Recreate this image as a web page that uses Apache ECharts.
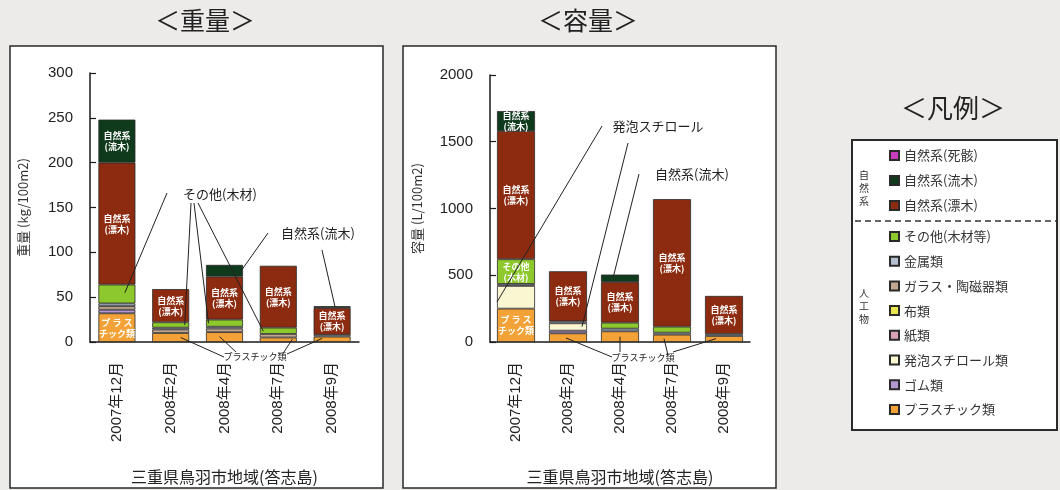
<!DOCTYPE html>
<html>
<head>
<meta charset="utf-8">
<script src="https://cdn.jsdelivr.net/npm/echarts@6/dist/echarts.min.js"></script>
<style>
html, body { margin: 0; padding: 0; background: #ecebe9; }
#c { width: 1060px; height: 490px; }
</style>
</head>
<body>
<div id="c"></div>
<script>
// Survey dates (三重県鳥羽市・答志島)
const categories = ['2007年12月', '2008年2月', '2008年4月', '2008年7月', '2008年9月'];

// Weight, kg/100m2 (stacked bottom -> top)
const wPlastic   = [32, 10, 11, 5, 6];
const wRubber    = [4, null, null, null, null];
const wFoam      = [null, null, null, null, null];
const wPaper     = [null, null, null, null, null];
const wCloth     = [null, null, null, null, null];
const wGlass     = [4, 4, 4, 4, null];
const wMetal     = [3, 2, 2, null, 2];
const wOtherWood = [21, 6, 8, 7, null];
const wDriftwood = [136, 37, 48, 69, 30];   // 漂木
const wFlowwood  = [48, null, 13, null, 2]; // 流木
const wCarcass   = [null, null, null, null, null];

// Volume, L/100m2 (stacked bottom -> top)
const vPlastic   = [250, 65, 80, 55, 45];
const vRubber    = [null, 20, null, null, null];
const vFoam      = [170, 55, null, null, null];
const vPaper     = [null, null, null, null, null];
const vCloth     = [null, null, null, null, null];
const vGlass     = [null, null, null, null, null];
const vMetal     = [15, 15, 20, 15, 15];
const vOtherWood = [185, null, 45, 45, null];
const vDriftwood = [960, 375, 305, 955, 285];
const vFlowwood  = [150, null, 55, null, null];
const vCarcass   = [null, null, null, null, null];

// Axis ranges
const weightMax = 300, weightStep = 50;
const volumeMax = 2000, volumeStep = 500;

const JP = '"Noto Sans CJK JP", sans-serif';
const NUM = '"Liberation Sans", Arial, "Noto Sans CJK JP", sans-serif';

// Kinds in stacking order (bottom first)
const kinds = [
  { name: 'プラスチック類',   color: '#f2a236', w: wPlastic,   v: vPlastic },
  { name: 'ゴム類',           color: '#b597d2', w: wRubber,    v: vRubber },
  { name: '発泡スチロール類', color: '#fbf6d2', w: wFoam,      v: vFoam },
  { name: '紙類',             color: '#dba2b6', w: wPaper,     v: vPaper },
  { name: '布類',             color: '#e8e64e', w: wCloth,     v: vCloth },
  { name: 'ガラス・陶磁器類', color: '#c2a690', w: wGlass,     v: vGlass },
  { name: '金属類',           color: '#b4bfd0', w: wMetal,     v: vMetal },
  { name: 'その他(木材等)',   color: '#8dc82c', w: wOtherWood, v: vOtherWood },
  { name: '自然系(漂木)',     color: '#8c2b0f', w: wDriftwood, v: vDriftwood },
  { name: '自然系(流木)',     color: '#0f3a1c', w: wFlowwood,  v: vFlowwood },
  { name: '自然系(死骸)',     color: '#c83cbe', w: wCarcass,   v: vCarcass }
];

// In-bar captions
function caption(kind, chart, i) {
  if (kind === '自然系(漂木)') return '自然系\n(漂木)';
  if (kind === '自然系(流木)' && i === 0) return '自然系\n(流木)';
  if (kind === 'その他(木材等)' && chart === 'v' && i === 0) return 'その他\n(木材)';
  if (kind === 'プラスチック類' && i === 0) return 'プ ラ ス\nチック類';
  return null;
}

const series = [];
['w', 'v'].forEach(function (chart, gi) {
  kinds.forEach(function (k) {
    series.push({
      type: 'bar',
      name: k.name,
      stack: chart,
      xAxisIndex: gi,
      yAxisIndex: gi,
      barWidth: gi === 0 ? 37 : 38,
      itemStyle: { color: k.color, borderColor: '#2a2a2a', borderWidth: 0.8 },
      emphasis: { disabled: true },
      data: k[chart].map(function (val, i) {
        const txt = caption(k.name, chart, i);
        if (val == null || !txt) return val;
        return {
          value: val,
          label: {
            show: true, position: 'inside', formatter: txt,
            color: '#fff', fontSize: 9, fontWeight: 'bold', lineHeight: 11, fontFamily: JP
          }
        };
      })
    });
  });
});

function xAxis(gi) {
  return {
    type: 'category', gridIndex: gi, data: categories,
    axisLine: { lineStyle: { color: '#1a1a1a', width: 1.5 } },
    axisTick: { inside: true, length: 5, lineStyle: { color: '#1a1a1a', width: 1.2 } },
    axisLabel: { rotate: 90, fontSize: 15, margin: 20, color: '#222', fontFamily: NUM },
    name: '三重県鳥羽市地域(答志島)', nameLocation: 'middle', nameGap: 127,
    nameTextStyle: { fontSize: 16, color: '#222', fontFamily: JP }
  };
}
function yAxis(gi, max, step, name, gap) {
  return {
    type: 'value', gridIndex: gi, min: 0, max: max, interval: step,
    axisLine: { show: true, lineStyle: { color: '#1a1a1a', width: 1.5 } },
    axisTick: { show: true, inside: true, length: 6, lineStyle: { color: '#1a1a1a', width: 1.2 } },
    splitLine: { show: false },
    axisLabel: { fontSize: 15, margin: 17, color: '#222', fontFamily: NUM,
                 formatter: function (v) { return String(v); } },
    name: name, nameLocation: 'middle', nameGap: gap,
    nameTextStyle: { fontSize: 13, color: '#333', fontFamily: JP }
  };
}

const legendText = { fontSize: 13, color: '#333', fontFamily: JP, lineHeight: 15 };
const legendNames = kinds.map(function (k) { return k.name; }).reverse();

const chart = echarts.init(document.getElementById('c'), null, { renderer: 'canvas' });
chart.setOption({
  backgroundColor: '#ecebe9',
  animation: false,
  grid: [
    { left: 90, right: 701, top: 73, bottom: 144 },
    { left: 490, right: 310, top: 75, bottom: 144 }
  ],
  xAxis: [xAxis(0), xAxis(1)],
  yAxis: [
    yAxis(0, weightMax, weightStep, '重量 (kg/100m2)', 60),
    yAxis(1, volumeMax, volumeStep, '容量 (L/100m2)', 66)
  ],
  legend: [
    { orient: 'vertical', left: 884, top: 143, itemWidth: 9, itemHeight: 9, itemGap: 10,
      icon: 'rect', selectedMode: false, textStyle: legendText, data: legendNames.slice(0, 3) },
    { orient: 'vertical', left: 884, top: 224, itemWidth: 9, itemHeight: 9, itemGap: 9.7,
      icon: 'rect', selectedMode: false, textStyle: legendText, data: legendNames.slice(3) }
  ],
  series: series
});

// Leader lines from callout text to the segments they name
function pt(gi, cat, val, dx) {
  const p = chart.convertToPixel({ gridIndex: gi }, [cat, val]);
  return [p[0] + dx, p[1]];
}
function leader(from, to) {
  return { type: 'line', z: 20, shape: { x1: from[0], y1: from[1], x2: to[0], y2: to[1] },
           style: { stroke: '#222', lineWidth: 1 } };
}
function note(x, y, text, size) {
  return { type: 'text', z: 21, x: x, y: y,
           style: { text: text, fill: '#222', font: size + 'px ' + JP, align: 'center', verticalAlign: 'middle' } };
}

const g = [
  // panels
  { type: 'rect', z: -10, shape: { x: 10, y: 46, width: 373, height: 442 },
    style: { fill: '#ffffff', stroke: '#2a2a2a', lineWidth: 1.5 } },
  { type: 'rect', z: -10, shape: { x: 403, y: 46, width: 373, height: 442 },
    style: { fill: '#ffffff', stroke: '#2a2a2a', lineWidth: 1.5 } },
  { type: 'rect', z: -10, shape: { x: 852, y: 140, width: 205, height: 290 },
    style: { fill: '#ffffff', stroke: '#2a2a2a', lineWidth: 2 } },
  // titles
  note(205, 20, '＜重量＞', 25),
  note(588, 20, '＜容量＞', 25),
  note(953, 108, '＜凡例＞', 26),
  // legend group marks
  { type: 'line', z: 5, shape: { x1: 855, y1: 221, x2: 1057, y2: 221 },
    style: { stroke: '#333', lineWidth: 1.5, lineDash: [6, 4] } },
  { type: 'text', z: 5, x: 864, y: 188,
    style: { text: '自\n然\n系', fill: '#333', font: '10px ' + JP, lineHeight: 13, align: 'center', verticalAlign: 'middle' } },
  { type: 'text', z: 5, x: 864, y: 306,
    style: { text: '人\n工\n物', fill: '#333', font: '10px ' + JP, lineHeight: 13, align: 'center', verticalAlign: 'middle' } },

  // weight callouts
  note(220, 194, 'その他(木材)', 13),
  leader([167, 193], pt(0, 0, 55, 8)),
  leader([191, 203], pt(0, 1, 19, 14)),
  leader([194, 203], pt(0, 2, 21, -16)),
  leader([198, 203], pt(0, 3, 12, -15)),
  note(318, 233, '自然系(流木)', 13),
  leader([268, 233], pt(0, 2, 80, 17)),
  leader([322, 250], pt(0, 4, 39, 3)),
  note(255, 357, 'プラスチック類', 9),
  leader([224, 357], pt(0, 1, 5, 10)),
  leader([236, 352], pt(0, 2, 6, -5)),
  leader([282, 355], pt(0, 3, 3, 14)),
  leader([287, 354], pt(0, 4, 4, -10)),

  // volume callouts
  note(658, 126, '発泡スチロール', 13),
  leader([602, 126], pt(1, 0, 300, -19)),
  leader([628, 143], pt(1, 1, 115, 14)),
  note(692, 174, '自然系(流木)', 13),
  leader([639, 174], pt(1, 2, 478, -7)),
  note(643, 358, 'プラスチック類', 9),
  leader([612, 357], pt(1, 1, 30, -2)),
  leader([620, 352], pt(1, 2, 40, 0)),
  leader([668, 355], pt(1, 3, 25, -8)),
  leader([673, 352], pt(1, 4, 25, -8))
];
chart.setOption({ graphic: g });
</script>
</body>
</html>
